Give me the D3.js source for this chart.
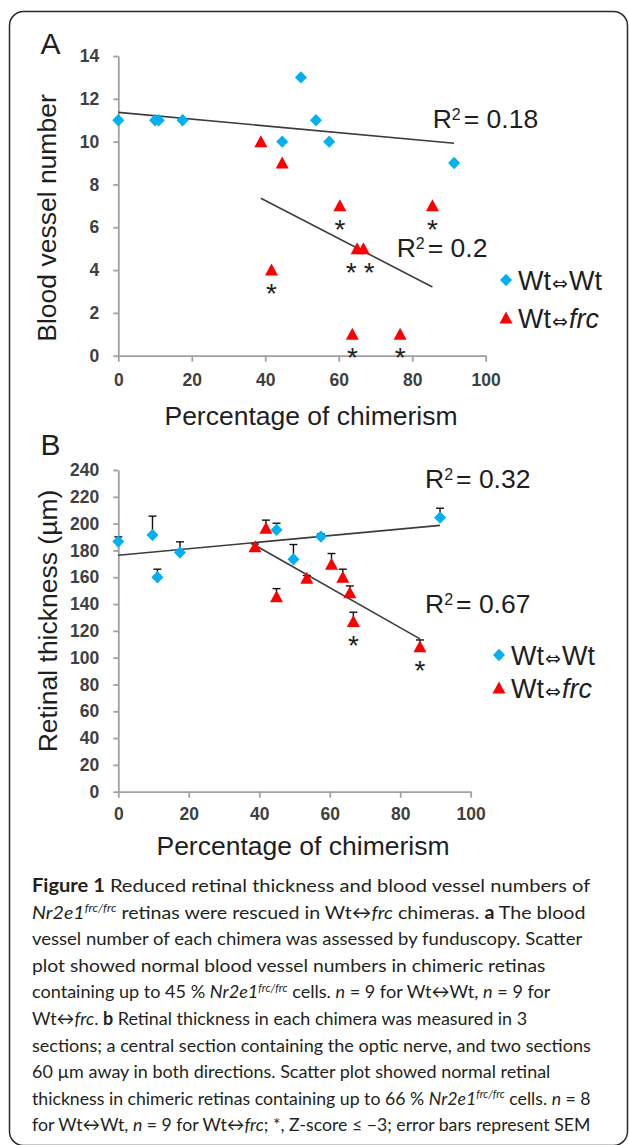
<!DOCTYPE html>
<meta charset="utf-8">
<style>
body { margin: 0; background: #fff; }
svg { display: block; }
text { font-family: "Liberation Sans", Arial, sans-serif; fill: #1e1e1e; }
.tick text { font-weight: bold; fill: #404040; font-size: 17.5px; }
.tick line, .domain { stroke: #a0a0a0; stroke-width: 1.8px; }
.caption text { font-family: Lato, "Open Sans", sans-serif; fill: #231f20; white-space: pre; }
</style>
<body>
<script src="https://cdn.jsdelivr.net/npm/d3@7/dist/d3.min.js"></script>
<script>

var width = 629,
    height = 1145;

// panel A : blood vessel number vs % chimerism
var aWtX  = [0, 10, 11, 17.5, 44.6, 49.7, 53.8, 57.4, 91.4];
var aWtY  = [11, 11, 11, 11, 10, 13, 11, 10, 9];
var aFrcX = [38.8, 44.6, 41.7, 60.3, 85.5, 65, 66.7, 63.7, 76.7];
var aFrcY = [10, 9, 4, 7, 7, 5, 5, 1, 1];
var aFrcStar = [0, 0, 1, 1, 1, 1, 1, 1, 1];
var aTicksX = [0, 20, 40, 60, 80, 100];
var aTicksY = [0, 2, 4, 6, 8, 10, 12, 14];
var aR2 = ["0.18", "0.2"];

// panel B : retinal thickness vs % chimerism
var bWtX   = [0, 9.7, 11.1, 17.5, 44.9, 49.7, 57.5, 91.3];
var bWtY   = [186.6, 191.6, 160, 178.4, 195.3, 173.4, 190.3, 204.5];
var bWtErr = [3.5, 14, 6, 8, 5, 11, 2, 7];
var bFrcX   = [38.8, 41.9, 44.9, 53.5, 60.5, 63.7, 65.7, 66.7, 85.6];
var bFrcY   = [182.8, 196.6, 145.5, 159.3, 169.7, 160, 148.5, 126.9, 108.2];
var bFrcErr = [2, 6, 6, 2, 8, 6, 5, 7, 5];
var bFrcStar = [0, 0, 0, 0, 0, 0, 0, 1, 1];
var bTicksX = [0, 20, 40, 60, 80, 100];
var bTicksY = [0, 20, 40, 60, 80, 100, 120, 140, 160, 180, 200, 220, 240];
var bR2 = ["0.32", "0.67"];

var legendNames = ["Wt", "Wt"];

var blue = "#00b0f0", red = "#ff0000";

var svg = d3.select("body").append("svg")
    .attr("width", width)
    .attr("height", height);

// frame
svg.append("rect")
    .attr("x", 9.5).attr("y", 11.5)
    .attr("width", 618).attr("height", 1134)
    .attr("rx", 14)
    .attr("fill", "none")
    .attr("stroke", "#2a2a2a")
    .attr("stroke-width", 1.5);

function fit(xs, ys) {
  var mx = d3.mean(xs), my = d3.mean(ys), sxy = 0, sxx = 0;
  xs.forEach(function(x, i) { sxy += (x - mx) * (ys[i] - my); sxx += (x - mx) * (x - mx); });
  var m = sxy / sxx;
  return {m: m, b: my - m * mx, x0: d3.min(xs), x1: d3.max(xs)};
}

function diamond(cx, cy) {
  return "M" + cx + "," + (cy - 6.2) + "L" + (cx + 6) + "," + cy + "L" + cx + "," + (cy + 6.2) + "L" + (cx - 6) + "," + cy + "Z";
}
function triangle(cx, cy) {
  return "M" + cx + "," + (cy - 6.5) + "L" + (cx + 6.5) + "," + (cy + 5.5) + "L" + (cx - 6.5) + "," + (cy + 5.5) + "Z";
}

function r2Label(g, x, y, val) {
  var t = g.append("text").attr("x", x).attr("y", y).style("font-size", "26.5px");
  t.append("tspan").text("R");
  t.append("tspan").attr("dy", -8.5).style("font-size", "16px").text("2");
  t.append("tspan").attr("dy", 8.5).attr("dx", 3).text("= " + val);
}

function legendItem(g, x, y, shape, color, italic) {
  g.append("path").attr("d", shape(x, y)).attr("fill", color);
  var t = g.append("text").attr("x", x + 12).attr("y", y + 9.5).style("font-size", "27px");
  t.append("tspan").text(legendNames[0]);
  t.append("tspan").attr("dx", 1).style("font-family", "DejaVu Sans").style("font-size", "19px").text("\u21d4");
  var last = t.append("tspan").attr("dx", 1).text(italic ? "frc" : legendNames[1]);
  if (italic) last.style("font-style", "italic");
}

function stars(g, pts) {
  // pts: [px, py]; spread stars that collide
  pts.sort(function(a, b) { return a[0] - b[0]; });
  for (var i = 1; i < pts.length; i++) {
    if (Math.abs(pts[i][0] - pts[i - 1][0]) < 16 && Math.abs(pts[i][1] - pts[i - 1][1]) < 5) {
      var mid = (pts[i][0] + pts[i - 1][0]) / 2;
      pts[i - 1][0] = mid - 9; pts[i][0] = mid + 9;
    }
  }
  g.selectAll(".star").data(pts).enter().append("text")
      .attr("class", "star")
      .attr("x", function(d) { return d[0]; })
      .attr("y", function(d) { return d[1] + 33; })
      .attr("text-anchor", "middle")
      .style("font-size", "28px")
      .text("*");
}

function panel(o) {
  var g = svg.append("g");
  var x = d3.scaleLinear().domain([0, 100]).range([o.left, o.right]);
  var y = d3.scaleLinear().domain([0, o.ymax]).range([o.bottom, o.top]);

  g.append("g")
      .attr("transform", "translate(0," + o.bottom + ")")
      .call(d3.axisBottom(x).tickValues(o.ticksX).tickSize(6).tickSizeOuter(0).tickPadding(o.xpad))
      .call(function(a) { a.selectAll(".tick text").attr("fill", null); });
  g.append("g")
      .attr("transform", "translate(" + o.left + ",0)")
      .call(d3.axisLeft(y).tickValues(o.ticksY).tickSize(5).tickSizeOuter(0).tickPadding(14))
      .call(function(a) { a.selectAll(".tick text").attr("fill", null); });

  [fit(o.wtX, o.wtY), fit(o.frcX, o.frcY)].forEach(function(f) {
    g.append("line")
        .attr("x1", x(f.x0)).attr("y1", y(f.m * f.x0 + f.b))
        .attr("x2", x(f.x1)).attr("y2", y(f.m * f.x1 + f.b))
        .attr("stroke", "#3c3c3c")
        .attr("stroke-width", 1.6);
  });

  if (o.wtErr) {
    var eb = [];
    o.wtX.forEach(function(v, i) { eb.push([v, o.wtY[i], o.wtErr[i]]); });
    o.frcX.forEach(function(v, i) { eb.push([v, o.frcY[i], o.frcErr[i]]); });
    var e = g.selectAll(".err").data(eb).enter().append("g").attr("class", "err")
        .attr("stroke", "#111").attr("stroke-width", 1.4);
    e.append("line")
        .attr("x1", function(d) { return x(d[0]); }).attr("x2", function(d) { return x(d[0]); })
        .attr("y1", function(d) { return y(d[1]); }).attr("y2", function(d) { return y(d[1] + d[2]); });
    e.append("line")
        .attr("x1", function(d) { return x(d[0]) - 4; }).attr("x2", function(d) { return x(d[0]) + 4; })
        .attr("y1", function(d) { return y(d[1] + d[2]); }).attr("y2", function(d) { return y(d[1] + d[2]); });
  }

  g.selectAll(".wt").data(o.wtX).enter().append("path")
      .attr("d", function(d, i) { return diamond(x(d), y(o.wtY[i])); })
      .attr("fill", blue);
  g.selectAll(".frc").data(o.frcX).enter().append("path")
      .attr("d", function(d, i) { return triangle(x(d), y(o.frcY[i])); })
      .attr("fill", red);

  var sp = [];
  o.frcX.forEach(function(d, i) { if (o.star[i]) sp.push([x(d), y(o.frcY[i])]); });
  stars(g, sp);

  g.append("text").attr("x", 40.5).attr("y", o.letterY).style("font-size", "30px").text(o.letter);

  g.append("text")
      .attr("transform", "translate(" + o.ylabX + "," + o.ylabY + ") rotate(-90)")
      .attr("text-anchor", "middle")
      .style("font-size", "26.5px")
      .text(o.ylabel);
  g.append("text")
      .attr("x", o.xlabX).attr("y", o.xlabY)
      .attr("text-anchor", "middle")
      .style("font-size", "26.5px")
      .text("Percentage of chimerism");

  r2Label(g, o.r2a[0], o.r2a[1], o.r2[0]);
  r2Label(g, o.r2b[0], o.r2b[1], o.r2[1]);

  legendItem(g, o.leg[0], o.leg[1], diamond, blue, false);
  legendItem(g, o.leg[0], o.leg[2], triangle, red, true);
}

panel({
  left: 118.3, right: 485.7, top: 56, bottom: 355.7, ymax: 14,
  ticksX: aTicksX, ticksY: aTicksY, xpad: 12,
  wtX: aWtX, wtY: aWtY, frcX: aFrcX, frcY: aFrcY, star: aFrcStar,
  letter: "A", letterY: 54,
  ylabel: "Blood vessel number", ylabX: 56, ylabY: 218,
  xlabX: 311, xlabY: 425,
  r2: aR2, r2a: [432.7, 128], r2b: [396.7, 257],
  leg: [506, 280, 318]
});

panel({
  left: 118.3, right: 470.7, top: 470, bottom: 791.7, ymax: 240,
  ticksX: bTicksX, ticksY: bTicksY, xpad: 10,
  wtX: bWtX, wtY: bWtY, wtErr: bWtErr, frcX: bFrcX, frcY: bFrcY, frcErr: bFrcErr, star: bFrcStar,
  letter: "B", letterY: 455,
  ylabel: "Retinal thickness (\u00b5m)", ylabX: 57, ylabY: 621,
  xlabX: 303, xlabY: 855,
  r2: bR2, r2a: [425, 488], r2b: [425, 613],
  leg: [499, 655, 688]
});

// caption
var capLines = [
  [["Figure 1", "b"], [" Reduced retinal thickness and blood vessel numbers of", ""]],
  [["Nr2e1", "i"], ["frc/frc", "s"], [" retinas were rescued in Wt\u2194", ""], ["frc", "i"], [" chimeras. ", ""], ["a", "b"], [" The blood", ""]],
  [["vessel number of each chimera was assessed by funduscopy. Scatter", ""]],
  [["plot showed normal blood vessel numbers in chimeric retinas", ""]],
  [["containing up to 45 % ", ""], ["Nr2e1", "i"], ["frc/frc", "s"], [" cells. ", ""], ["n", "i"], [" = 9 for Wt\u2194Wt, ", ""], ["n", "i"], [" = 9 for", ""]],
  [["Wt\u2194", ""], ["frc", "i"], [". ", ""], ["b", "b"], [" Retinal thickness in each chimera was measured in 3", ""]],
  [["sections; a central section containing the optic nerve, and two sections", ""]],
  [["60 \u00b5m away in both directions. Scatter plot showed normal retinal", ""]],
  [["thickness in chimeric retinas containing up to 66 % ", ""], ["Nr2e1", "i"], ["frc/frc", "s"], [" cells. ", ""], ["n", "i"], [" = 8", ""]],
  [["for Wt\u2194Wt, ", ""], ["n", "i"], [" = 9 for Wt\u2194", ""], ["frc", "i"], ["; *, Z-score \u2264 \u22123; error bars represent SEM", ""]]
];
// right end of each caption line in the reference
var capEnds = [590, 585, 582, 545, 550, 527, 590, 550, 590, 590];

var cap = svg.append("g").attr("class", "caption");

function drawCaption(fs) {
  cap.selectAll("*").remove();
  capLines.forEach(function(line, li) {
    var t = cap.append("text")
        .attr("transform", "translate(32," + (892 + li * 26.6) + ")")
        .style("font-size", fs + "px");
    var raised = false;
    line.forEach(function(seg) {
      var s = t.append("tspan").text(seg[0]);
      if (seg[1] === "b") s.style("font-weight", "bold");
      if (seg[1] === "i") s.style("font-style", "italic");
      if (seg[1] === "s") {
        s.style("font-style", "italic").style("font-size", (fs * 0.62) + "px").attr("dy", -fs * 0.38);
        raised = true;
      } else if (raised) {
        s.attr("dy", fs * 0.38);
        raised = false;
      }
    });
  });
}

drawCaption(19);
var ratios = [];
cap.selectAll("text").each(function(d, i) {
  ratios.push((capEnds[i] - 32) / this.getComputedTextLength());
});
var fs = 19 * d3.median(ratios);
drawCaption(fs);
cap.selectAll("text").each(function(d, i) {
  var w = this.getComputedTextLength();
  var sx = (capEnds[i] - 32) / w;
  d3.select(this).attr("transform", "translate(32," + (892 + i * 26.6) + ") scale(" + sx + ",1)");
});

</script>
</body>
